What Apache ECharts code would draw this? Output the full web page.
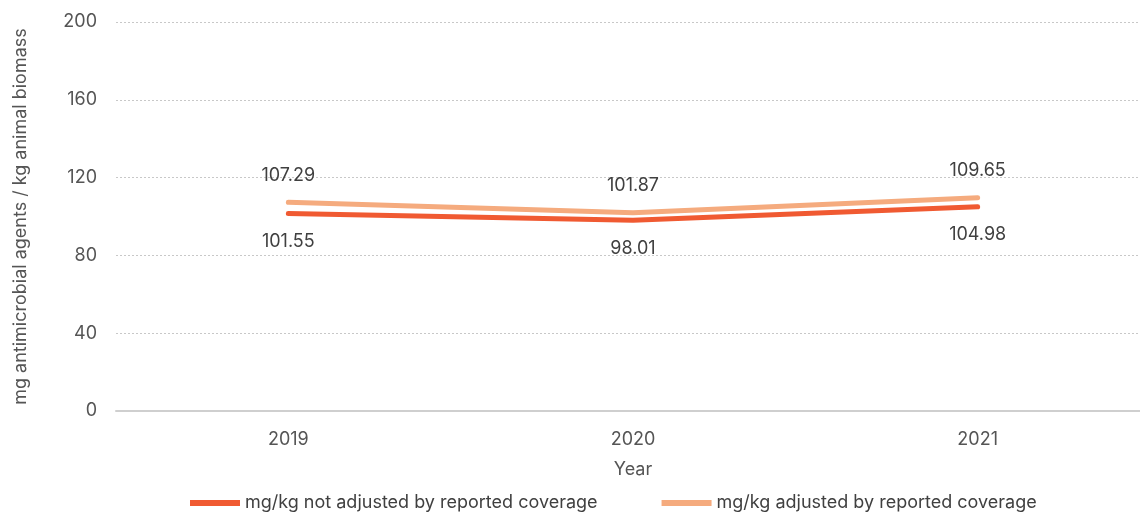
<!DOCTYPE html>
<html><head><meta charset="utf-8">
<script src="https://cdn.jsdelivr.net/npm/echarts@6/dist/echarts.min.js"></script>
<style>html,body{margin:0;padding:0;background:#fff}#c{width:1140px;height:512px}</style>
</head><body><div id="c"></div>
<script>
const years = ['2019', '2020', '2021'];
const notAdjusted = [101.55, 98.01, 104.98];
const adjusted = [107.29, 101.87, 109.65];
const yTicks = [0, 40, 80, 120, 160, 200];
const seriesNames = ['mg/kg not adjusted by reported coverage', 'mg/kg adjusted by reported coverage'];

const FONT = 'Inter';
const FS = 18;
const chart = echarts.init(document.getElementById('c'));
chart.setOption({
  animation: false,
  textStyle: { fontFamily: FONT },
  grid: { left: 116, width: 1034, top: 22, bottom: 101, outerBoundsMode: 'none' },
  legend: {
    bottom: -5, left: 185, itemWidth: 50, itemHeight: 12, itemGap: 64,
    icon: 'path://M0,0 L50,0 L50,6 L0,6 Z',
    textStyle: { fontSize: FS, color: '#404040', fontFamily: FONT },
    data: seriesNames
  },
  xAxis: {
    type: 'category', data: years, boundaryGap: true,
    name: 'Year', nameLocation: 'middle', nameGap: 50,
    nameTextStyle: { fontSize: FS, color: '#555', fontFamily: FONT },
    axisLine: { lineStyle: { color: '#cfcfcf', width: 2 } },
    axisTick: { show: false },
    axisLabel: { fontSize: FS, color: '#555', margin: 20, fontFamily: FONT }
  },
  yAxis: {
    type: 'value', min: yTicks[0], max: yTicks[yTicks.length - 1], interval: 40,
    name: 'mg antimicrobial agents / kg animal biomass', nameLocation: 'middle', nameGap: 86,
    nameTextStyle: { fontSize: FS, color: '#555', fontFamily: FONT },
    axisLine: { show: false }, axisTick: { show: false },
    axisLabel: { fontSize: FS, color: '#555', margin: 19, fontFamily: FONT },
    splitLine: { lineStyle: { color: '#c8c8c8', type: [2, 2], width: 1 } }
  },
  series: [
    {
      name: seriesNames[0], type: 'line', data: notAdjusted, symbol: 'circle', symbolSize: 0.1, showSymbol: true,
      lineStyle: { color: '#F05A32', width: 5, cap: 'round' }, itemStyle: { color: '#F05A32' },
      label: { show: true, position: 'bottom', distance: 19, fontSize: FS, color: '#404040', fontFamily: FONT, formatter: p => p.value.toFixed(2) },
      z: 3
    },
    {
      name: seriesNames[1], type: 'line', data: adjusted, symbol: 'circle', symbolSize: 0.1, showSymbol: true,
      lineStyle: { color: '#F5AB7E', width: 5, cap: 'round' }, itemStyle: { color: '#F5AB7E' },
      label: { show: true, position: 'top', distance: 18, fontSize: FS, color: '#404040', fontFamily: FONT, formatter: p => p.value.toFixed(2) },
      z: 2
    }
  ]
});
</script></body></html>
